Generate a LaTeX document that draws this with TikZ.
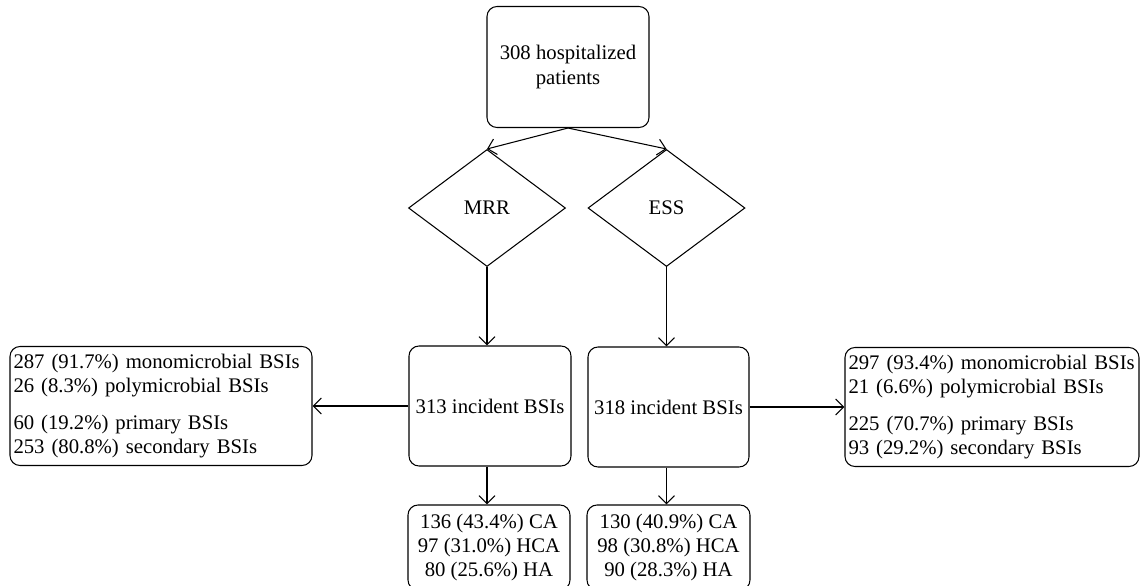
\documentclass[tikz,border=0pt]{standalone}
\usepackage{fontspec}
\setmainfont{Liberation Serif}
\usetikzlibrary{shapes.geometric, arrows.meta}

\begin{document}
\begin{tikzpicture}[
        font=\fontsize{11.8}{13.7}\selectfont,
        line width=0.6pt,
        >={Straight Barb[length=0.16cm, width=0.32cm]},
        box/.style={draw, rounded corners=0.2cm, align=center},
        decision/.style={draw, diamond, minimum width=3.14cm, minimum height=2.34cm, inner sep=0pt},
    ]
            \useasboundingbox (0,0) rectangle (22.8,-11.72);
            % oberste Box:
            \node[box, minimum width=3.24cm, minimum height=2.42cm] (patients) at (11.36,-1.34)
                {308 hospitalized\\patients};
            % Methoden:
            \node[decision] (mrr) at (9.74,-4.16) {MRR};
            \node[decision] (ess) at (13.33,-4.16) {ESS};
            % incident BSIs:
            \node[box, minimum width=3.24cm, minimum height=2.40cm] (bsiMRR) at (9.80,-8.12)
                {313 incident BSIs};
            \node[box, minimum width=3.22cm, minimum height=2.40cm] (bsiESS) at (13.37,-8.14)
                {318 incident BSIs};
            % seitliche Boxen:
            \node[box, align=left, text width=5.9cm, inner xsep=0.07cm, minimum height=2.38cm] (typeMRR) at (3.22,-8.12)
                {287 (91.7\%) monomicrobial BSIs\\
                 26 (8.3\%) polymicrobial BSIs\\[0.26cm]
                 60 (19.2\%) primary BSIs\\
                 253 (80.8\%) secondary BSIs};
            \node[box, align=left, text width=5.74cm, inner xsep=0.07cm, minimum height=2.38cm] (typeESS) at (19.84,-8.14)
                {297 (93.4\%) monomicrobial BSIs\\
                 21 (6.6\%) polymicrobial BSIs\\[0.26cm]
                 225 (70.7\%) primary BSIs\\
                 93 (29.2\%) secondary BSIs};
            % unterste Boxen:
            \node[box, minimum width=3.24cm, minimum height=1.70cm] (originMRR) at (9.78,-10.95)
                {136 (43.4\%) CA\\97 (31.0\%) HCA\\80 (25.6\%) HA};
            \node[box, minimum width=3.26cm, minimum height=1.70cm] (originESS) at (13.37,-10.95)
                {130 (40.9\%) CA\\98 (30.8\%) HCA\\90 (28.3\%) HA};
            % Pfeile:
            \draw[->] (patients.south) -- (mrr.north);
            \draw[->] (patients.south) -- (ess.north);
            \draw[->] (mrr.south) -- (mrr.south |- bsiMRR.north);
            \draw[->] (ess.south) -- (ess.south |- bsiESS.north);
            \draw[->] (bsiMRR.west) -- (typeMRR.east);
            \draw[->] (bsiESS.east) -- (typeESS.west);
            \draw[->] (mrr.south |- bsiMRR.south) -- (mrr.south |- originMRR.north);
            \draw[->] (ess.south |- bsiESS.south) -- (ess.south |- originESS.north);
\end{tikzpicture}
\end{document}
